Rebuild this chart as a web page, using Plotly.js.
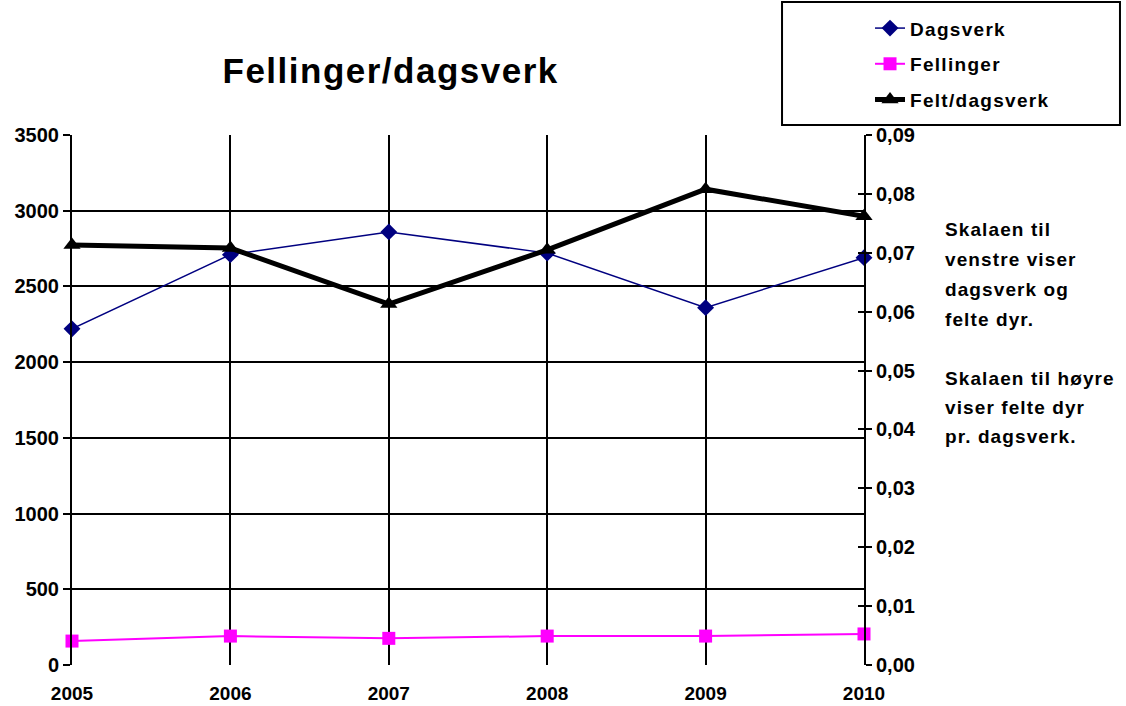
<!DOCTYPE html>
<html>
<head>
<meta charset="utf-8">
<script src="https://cdn.plot.ly/plotly-3.0.1.min.js"></script>
<style>html,body{margin:0;padding:0;background:#fff;}#chart{width:1126px;height:706px;}</style>
</head>
<body>
<div id="chart"></div>
<script>
const years = [2005, 2006, 2007, 2008, 2009, 2010];
const dagsverk = [2220, 2710, 2860, 2720, 2360, 2690];
const fellinger = [158, 191, 176, 191, 191, 205];
const feltPerDagsverk = [0.0713, 0.0708, 0.0613, 0.0705, 0.0808, 0.0762];
const leftTicks = [0, 500, 1000, 1500, 2000, 2500, 3000, 3500];
const rightTicks = [0, 0.01, 0.02, 0.03, 0.04, 0.05, 0.06, 0.07, 0.08, 0.09];
const rightTickLabels = ['0,00', '0,01', '0,02', '0,03', '0,04', '0,05', '0,06', '0,07', '0,08', '0,09'];
const noteLines = ['Skalaen til', 'venstre viser', 'dagsverk og', 'felte dyr.',
                   'Skalaen til høyre', 'viser felte dyr', 'pr. dagsverk.'];

const FONT = 'Liberation Sans, Arial, sans-serif';
const notePixelY = [229, 259, 289, 319, 378, 407, 436];
const toPaperY = py => (665 - py) / 530;

const traces = [
  {
    x: years, y: dagsverk, name: 'Dagsverk', type: 'scatter', mode: 'lines+markers',
    line: {color: '#000080', width: 1.5},
    marker: {symbol: 'diamond', size: 13, color: '#000080'},
    legendgroup: 'a', yaxis: 'y', cliponaxis: false
  },
  {
    x: years, y: fellinger, name: 'Fellinger', type: 'scatter', mode: 'lines+markers',
    line: {color: '#FF00FF', width: 2},
    marker: {symbol: 'square', size: 13, color: '#FF00FF'},
    legendgroup: 'b', yaxis: 'y', cliponaxis: false
  },
  {
    x: years, y: feltPerDagsverk, name: 'Felt/dagsverk', type: 'scatter', mode: 'lines+markers',
    line: {color: '#000000', width: 5},
    marker: {symbol: 'triangle-up', size: 15, color: '#000000'},
    legendgroup: 'c', yaxis: 'y2', cliponaxis: false
  },
  {
    x: years, y: years.map(() => null), yaxis: 'y3', showlegend: false, hoverinfo: 'skip',
    type: 'scatter', mode: 'lines'
  }
];

const annotations = [
  {text: '<b>Fellinger/dagsverk</b>', xref: 'paper', yref: 'paper', x: 0.403, y: 1.121,
   xanchor: 'center', yanchor: 'middle', showarrow: false,
   font: {family: FONT, size: 35, color: '#000'}}
];
noteLines.forEach((t, i) => {
  annotations.push({
    text: '<b>' + t + '</b>', xref: 'paper', yref: 'paper',
    x: 1.1, y: toPaperY(notePixelY[i]), xanchor: 'left', yanchor: 'middle',
    align: 'left', showarrow: false,
    font: {family: FONT, size: 19, color: '#000'}
  });
});

const layout = {
  width: 1126, height: 706,
  margin: {l: 72, r: 262, t: 135, b: 41, autoexpand: false},
  paper_bgcolor: '#ffffff', plot_bgcolor: '#ffffff',
  font: {family: FONT, size: 19, color: '#000'},
  showlegend: true,
  legend: {
    x: 1.0076, y: 1.2373, xanchor: 'left', yanchor: 'top',
    bgcolor: 'rgba(0,0,0,0)', borderwidth: 0,
    font: {family: FONT, size: 19, color: '#000', weight: 'bold'},
    traceorder: 'grouped', tracegroupgap: 8
  },
  xaxis: {
    range: [2005, 2010], tickmode: 'array', tickvals: years, ticktext: years.map(String),
    showgrid: true, gridcolor: '#000', gridwidth: 2, zeroline: false,
    showline: false, ticks: '', ticklabelstandoff: 15,
    tickfont: {family: FONT, size: 19, color: '#000', weight: 'bold'}
  },
  yaxis: {
    range: [0, 3500], tickmode: 'array', tickvals: leftTicks,
    showgrid: true, gridcolor: '#000', gridwidth: 2, zeroline: false,
    showline: true, linecolor: '#000', linewidth: 2,
    ticks: 'outside', ticklen: 7, tickcolor: '#000', tickwidth: 2,
    tickfont: {family: FONT, size: 20, color: '#000', weight: 'bold'}
  },
  yaxis2: {
    range: [0, 0.09], overlaying: 'y', side: 'right', tickmode: 'array',
    tickvals: rightTicks, ticktext: rightTickLabels,
    showgrid: false, zeroline: false,
    showline: true, linecolor: '#000', linewidth: 2,
    ticks: 'outside', ticklen: 6, tickcolor: '#000', tickwidth: 2,
    tickfont: {family: FONT, size: 20, color: '#000', weight: 'bold'}
  },
  yaxis3: {
    range: [0, 0.09], overlaying: 'y', side: 'right', tickmode: 'array',
    tickvals: rightTicks, showticklabels: false,
    showgrid: false, zeroline: false, showline: false,
    ticks: 'inside', ticklen: 6, tickcolor: '#000', tickwidth: 2
  },
  shapes: [
    {type: 'rect', xref: 'paper', yref: 'paper', x0: 0.8965, x1: 1.3232, y0: 1.0189, y1: 1.2509,
     line: {color: '#000', width: 2}, fillcolor: 'rgba(0,0,0,0)'}
  ],
  annotations: annotations
};

Plotly.newPlot('chart', traces, layout, {displayModeBar: false, staticPlot: true}).then(() => {
  document.querySelectorAll('.annotation-text').forEach((el, i) => {
    el.style.letterSpacing = (i === 0 ? '1.5px' : '1.1px');
  });
  document.querySelectorAll('.legend [clip-path]').forEach(el => el.removeAttribute('clip-path'));
  document.querySelectorAll('.legendtext').forEach(el => { el.style.letterSpacing = '1.3px'; });
});
</script>
</body>
</html>
